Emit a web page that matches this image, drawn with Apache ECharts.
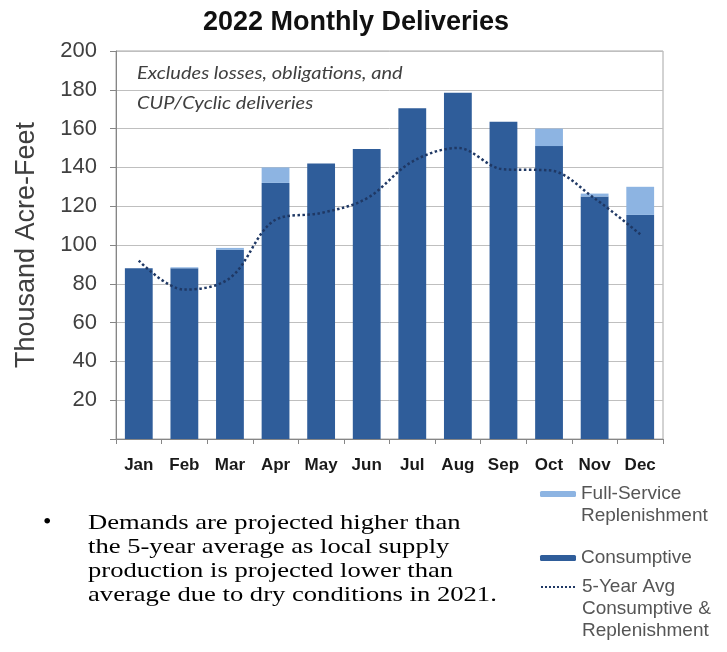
<!DOCTYPE html>
<html>
<head>
<meta charset="utf-8">
<style>
  html, body { margin: 0; padding: 0; background: #fff; }
  #main { width: 727px; height: 652px; }
</style>
<script src="https://cdn.jsdelivr.net/npm/echarts@6/dist/echarts.min.js"></script>
</head>
<body>
<div id="main"></div>
<script>
var months = ['Jan', 'Feb', 'Mar', 'Apr', 'May', 'Jun', 'Jul', 'Aug', 'Sep', 'Oct', 'Nov', 'Dec'];
var consumptive = [88, 88, 97.5, 132, 142, 149.5, 170.5, 178.5, 163.5, 151, 125, 115.5];
var replenishment = [0, 0.5, 1, 8, 0, 0, 0, 0, 0, 9, 1.5, 14.5];
var fiveYearAvg = [92, 77, 83, 113, 116.5, 124, 143, 150, 139, 138.5, 124, 105.5];

var nameRepl = 'Full-Service\nReplenishment';
var nameCons = 'Consumptive';
var nameAvg = '5-Year Avg\nConsumptive &\nReplenishment';

var myChart = echarts.init(document.getElementById('main'));

// legend text: pad with blank lines above so the icon sits on the first line
function legendLabel(name) {
	var n = name.split('\n').length;
	return new Array(n).join('\n') + name;
}

function oneLegend(name, top, extra) {
	return Object.assign({
		data: [name],
		left: 540,
		top: top,
		padding: 0,
		itemWidth: 36,
		itemHeight: 6,
		itemGap: 0,
		formatter: legendLabel,
		textStyle: {
			fontFamily: 'Liberation Sans',
			fontSize: 19,
			lineHeight: 22,
			color: '#555'
		}
	}, extra || {});
}

var option = {
	backgroundColor: '#fff',
	animation: false,
	title: {
		text: '2022 Monthly Deliveries',
		left: 351,
		top: 4,
		textAlign: 'center',
		textStyle: {
			fontFamily: 'Liberation Sans',
			fontWeight: 'bold',
			fontSize: 27,
			color: '#111'
		}
	},
	legend: [
		oneLegend(nameRepl, 461),
		oneLegend(nameCons, 547),
		oneLegend(nameAvg, 532, { itemStyle: { opacity: 0 } })
	],
	grid: {
		left: 116,
		right: 64,
		top: 51,
		bottom: 213,
		show: true,
		borderColor: '#a6a6a6',
		borderWidth: 1
	},
	xAxis: {
		type: 'category',
		data: months,
		axisLine: { lineStyle: { color: '#868686' } },
		axisTick: { show: true, length: 5, lineStyle: { color: '#868686' } },
		axisLabel: {
			fontFamily: 'Liberation Sans',
			fontWeight: 'bold',
			fontSize: 17,
			color: '#1a1a1a',
			margin: 18
		}
	},
	yAxis: {
		type: 'value',
		min: 0,
		max: 200,
		interval: 20,
		name: 'Thousand Acre-Feet',
		nameLocation: 'middle',
		nameGap: 76,
		nameTextStyle: {
			fontFamily: 'Liberation Sans',
			fontSize: 27,
			color: '#404040'
		},
		axisLine: { show: true, lineStyle: { color: '#868686' } },
		axisTick: { show: true, length: 6, lineStyle: { color: '#868686' } },
		splitLine: { lineStyle: { color: '#bfbfbf' } },
		axisLabel: {
			fontFamily: 'Liberation Sans',
			fontSize: 22,
			color: '#404040',
			margin: 19,
			formatter: function (v) { return v === 0 ? '' : v; }
		}
	},
	graphic: [
		{
			type: 'text',
			x: 137,
			y: 59,
			scaleX: 1.18,
			style: {
				text: 'Excludes losses, obligations, and\nCUP/Cyclic deliveries',
				font: 'italic 17px Lato',
				lineHeight: 30,
				fill: '#404040'
			}
		},
		{
			type: 'text',
			x: 43,
			y: 511,
			style: {
				text: '\u2022',
				font: '24px "Liberation Serif"',
				fill: '#000'
			}
		},
		{
			type: 'text',
			x: 88,
			y: 511,
			scaleX: 1.21,
			style: {
				text: 'Demands are projected higher than\nthe 5-year average as local supply\nproduction is projected lower than\naverage due to dry conditions in 2021.',
				font: '22px "Liberation Serif"',
				lineHeight: 24,
				fill: '#000'
			}
		}
	],
	series: [
		{
			name: nameCons,
			type: 'bar',
			stack: 'del',
			data: consumptive,
			barWidth: '61%',
			itemStyle: { color: '#2f5d9a' },
			legendIcon: 'rect'
		},
		{
			name: nameRepl,
			type: 'bar',
			stack: 'del',
			data: replenishment,
			itemStyle: { color: '#8db4e2' },
			legendIcon: 'rect'
		},
		{
			name: nameAvg,
			type: 'line',
			data: fiveYearAvg,
			smooth: 0.35,
			symbol: 'none',
			z: 5,
			lineStyle: { color: '#1f3864', width: 2.5, type: 'dotted' }
		}
	]
};

myChart.setOption(option);
</script>
</body>
</html>
